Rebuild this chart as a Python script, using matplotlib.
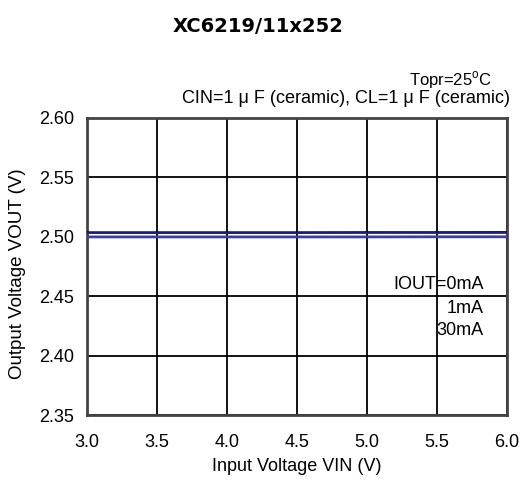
import matplotlib
matplotlib.use("Agg")
import matplotlib.pyplot as plt

plt.rcParams['font.family'] = ['Liberation Sans', 'DejaVu Sans']

# Data
vin = [3.0, 3.5, 4.0, 4.5, 5.0, 5.5, 6.0]
vout_0ma = [2.5037, 2.5037, 2.5037, 2.5037, 2.5038, 2.5038, 2.5039]
vout_1ma = [2.5033, 2.5033, 2.5033, 2.5033, 2.5034, 2.5034, 2.5034]
vout_30ma = [2.4999, 2.4999, 2.4999, 2.4999, 2.4999, 2.5000, 2.5000]

x_ticks = [3.0, 3.5, 4.0, 4.5, 5.0, 5.5, 6.0]
y_ticks = [2.35, 2.40, 2.45, 2.50, 2.55, 2.60]
labels = ["IOUT=0mA", "1mA", "30mA"]

fig = plt.figure(figsize=(5.28, 5.01), dpi=100)
ax = fig.add_axes([87/528, 1-415/501, 420/528, 297/501])

ax.plot(vin, vout_0ma, color="#000000", lw=1.5, zorder=3)
ax.plot(vin, vout_1ma, color="#1c1c7a", lw=1.5, zorder=3)
ax.plot(vin, vout_30ma, color="#3d3da5", lw=2.0, zorder=3)

ax.set_xlim(3.0, 6.0)
ax.set_ylim(2.35, 2.60)
ax.set_xticks(x_ticks)
ax.set_yticks(y_ticks)
ax.set_xticklabels([f"{t:.1f}" for t in x_ticks])
ax.set_yticklabels([f"{t:.2f}" for t in y_ticks])
ax.tick_params(axis='both', length=0, labelsize=13)
ax.tick_params(axis='x', pad=14)
ax.tick_params(axis='y', pad=9)
ax.grid(True, color="black", lw=1.3, zorder=1)
ax.set_axisbelow(True)
for s in ax.spines.values():
    s.set_color("#444444")
    s.set_linewidth(2)

ax.set_xlabel("Input Voltage VIN (V)", fontsize=13)
ax.xaxis.set_label_coords(0.5, -0.145)
ax.set_ylabel("Output Voltage VOUT (V)", fontsize=13.5)
ax.yaxis.set_label_coords(-0.146, 0.475)

# legend-like labels
ax.text(0.945, 0.441, labels[0], transform=ax.transAxes, ha='right', va='center', fontsize=13)
ax.text(0.945, 0.360, labels[1], transform=ax.transAxes, ha='right', va='center', fontsize=13)
ax.text(0.945, 0.283, labels[2], transform=ax.transAxes, ha='right', va='center', fontsize=13)

fig.text(258/528, 1-27/501, "XC6219/11x252", ha='center', va='center',
         fontsize=14, fontweight='bold', family='DejaVu Sans')
fig.text(492/528, 1-80/501, r"Topr=25$^\mathregular{o}$C", ha='right', va='center', fontsize=12)
fig.text(510/528, 1-98/501, "CIN=1 μ F (ceramic), CL=1 μ F (ceramic)", ha='right', va='center', fontsize=13)

fig.savefig("out.png", dpi=100)
